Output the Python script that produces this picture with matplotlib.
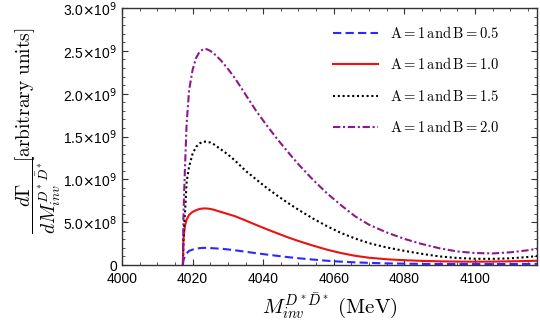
import numpy as np
import matplotlib
matplotlib.use("Agg")
import matplotlib.pyplot as plt
from matplotlib.ticker import MultipleLocator, FuncFormatter

# Data (values in units of 1e9)
x = [4017.25, 4017.4, 4017.6, 4017.85, 4018.3, 4019, 4020, 4021, 4022, 4023, 4024,
     4025, 4026, 4028, 4030, 4032, 4035, 4038, 4041, 4044, 4047, 4050, 4054, 4058,
     4062, 4066, 4070, 4075, 4080, 4085, 4090, 4095, 4100, 4105, 4110, 4115, 4117.6]
b05 = [0, 0.055, 0.08, 0.10, 0.135, 0.165, 0.18, 0.19, 0.197, 0.2, 0.2,
       0.198, 0.195, 0.19, 0.182, 0.172, 0.155, 0.138, 0.122, 0.107, 0.092, 0.079, 0.064, 0.05,
       0.039, 0.031, 0.025, 0.019, 0.016, 0.013, 0.012, 0.011, 0.011, 0.011, 0.012, 0.013, 0.014]
b10 = [0, 0.29, 0.38, 0.46, 0.53, 0.585, 0.62, 0.64, 0.655, 0.66, 0.66,
       0.655, 0.645, 0.62, 0.595, 0.57, 0.52, 0.468, 0.418, 0.37, 0.323, 0.28, 0.228, 0.18,
       0.14, 0.108, 0.085, 0.067, 0.056, 0.048, 0.043, 0.040, 0.039, 0.040, 0.043, 0.047, 0.050]
b15 = [0, 0.30, 0.47, 0.62, 0.97, 1.15, 1.30, 1.38, 1.42, 1.44, 1.44,
       1.43, 1.41, 1.35, 1.29, 1.22, 1.10, 1.00, 0.90, 0.81, 0.725, 0.645, 0.545, 0.455,
       0.375, 0.31, 0.255, 0.205, 0.165, 0.13, 0.10, 0.082, 0.073, 0.072, 0.078, 0.093, 0.105]
b20 = [0, 0.55, 0.85, 1.15, 1.65, 2.04, 2.28, 2.42, 2.49, 2.52, 2.52,
       2.50, 2.47, 2.39, 2.29, 2.18, 1.99, 1.80, 1.63, 1.47, 1.32, 1.175, 1.00, 0.84,
       0.70, 0.57, 0.47, 0.38, 0.305, 0.245, 0.195, 0.158, 0.14, 0.135, 0.148, 0.172, 0.19]
labels = [r'$\mathrm{A}=1\,\mathrm{and}\,\mathrm{B}=0.5$',
          r'$\mathrm{A}=1\,\mathrm{and}\,\mathrm{B}=1.0$',
          r'$\mathrm{A}=1\,\mathrm{and}\,\mathrm{B}=1.5$',
          r'$\mathrm{A}=1\,\mathrm{and}\,\mathrm{B}=2.0$']

plt.rcParams['mathtext.fontset'] = 'cm'
plt.rcParams['font.family'] = ['Liberation Sans', 'DejaVu Sans']

fig = plt.figure(figsize=(5.4, 3.22), dpi=100)
ax = fig.add_axes([0.226, 0.177, 0.7685, 0.798])

scale = 1e9
ax.plot(x, np.array(b05) * scale, color='#2a2aff', lw=1.5, ls=(0, (4, 2)), label=labels[0])
ax.plot(x, np.array(b10) * scale, color='#ee1111', lw=1.5, ls='-', label=labels[1])
ax.plot(x, np.array(b15) * scale, color='black', lw=1.5, ls=(0, (1, 1.3)), label=labels[2])
ax.plot(x, np.array(b20) * scale, color='#8b1a8b', lw=1.5, ls=(0, (3.5, 1.3, 1, 1.3)), label=labels[3])

ax.set_xlim(4000, 4117.6)
ax.set_ylim(0, 3e9)
ax.xaxis.set_major_locator(MultipleLocator(20))
ax.xaxis.set_minor_locator(MultipleLocator(5))
ax.yaxis.set_major_locator(MultipleLocator(0.5e9))
ax.yaxis.set_minor_locator(MultipleLocator(0.1e9))

def yfmt(v, pos):
    if abs(v) < 1:
        return '0'
    if v < 0.99e9:
        return r'%.1f$\times$10$^{8}$' % (v / 1e8)
    return r'%.1f$\times$10$^{9}$' % (v / 1e9)

ax.yaxis.set_major_formatter(FuncFormatter(yfmt))
ax.tick_params(which='both', direction='in', top=True, right=True, colors='#333333',
               labelcolor='black', labelsize=10)
ax.tick_params(which='major', length=4, width=0.8)
ax.tick_params(which='minor', length=2.5, width=0.6)
ax.tick_params(axis='x', which='major', pad=5)
for s in ax.spines.values():
    s.set_color('#333333')
    s.set_linewidth(1.0)

ax.set_xlabel(r'$M_{inv}^{D^*\bar{D}^*}\ (\mathrm{MeV})$', fontsize=15, labelpad=4)

# y label: fraction plus bracketed text
fig.text(39 / 540, 1 - 195 / 322, r'$\dfrac{d\Gamma}{dM_{inv}^{D^*\bar{D}^*}}$',
         rotation=90, ha='center', va='center', fontsize=14)
fig.text(25 / 540, 1 - 95 / 322, r'$[\mathrm{arbitrary\ units}]$',
         rotation=90, ha='center', va='center', fontsize=14)

leg = ax.legend(loc='upper right', frameon=False, fontsize=10.5, handlelength=3.1,
                bbox_to_anchor=(0.94, 0.985), labelspacing=1.05, handletextpad=0.8)

fig.canvas.draw()
for lbl in ax.get_yticklabels():
    lbl.set_math_fontfamily('dejavusans')
fig.savefig('out.png', dpi=100)
